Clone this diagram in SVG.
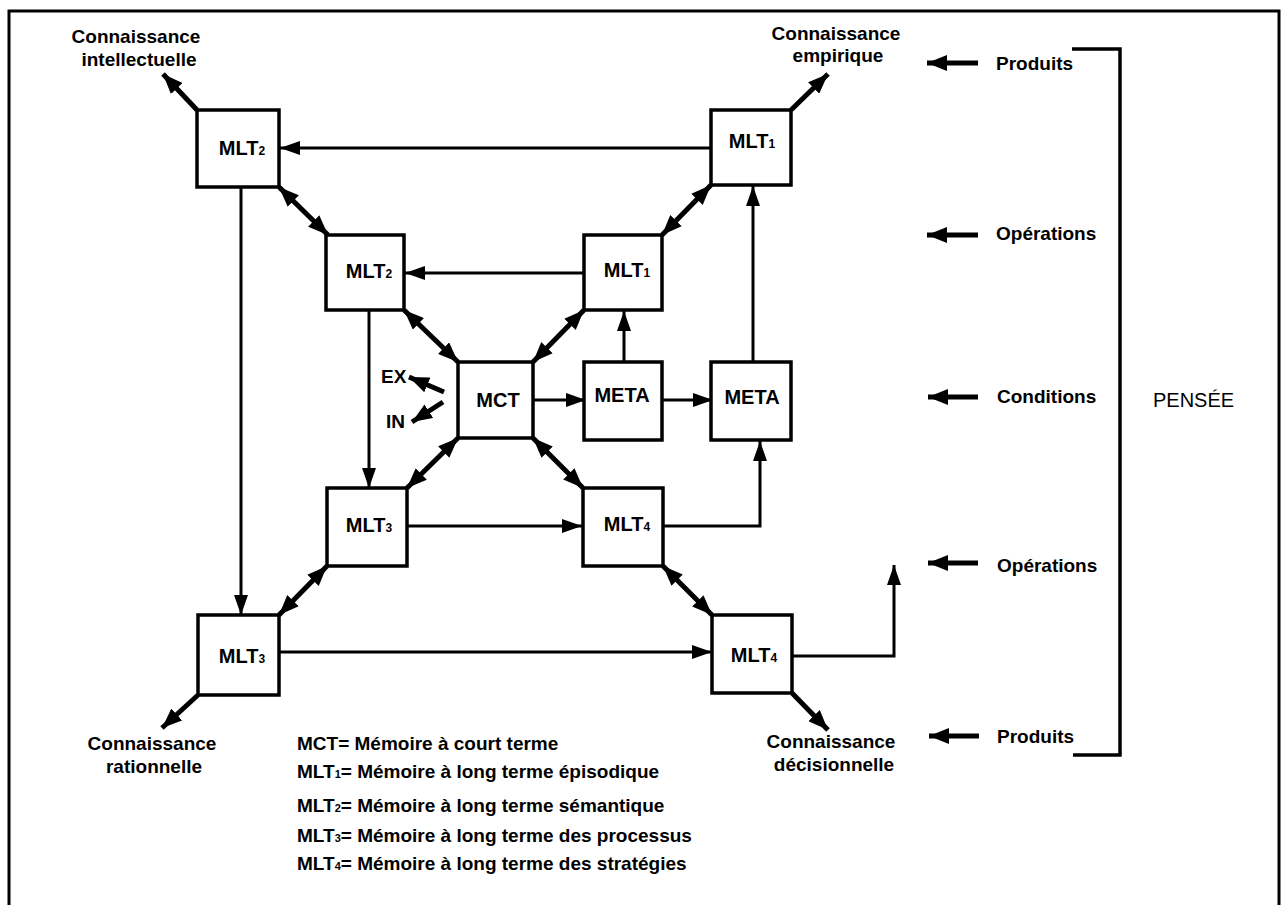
<svg xmlns="http://www.w3.org/2000/svg" width="1285" height="905" viewBox="0 0 1285 905">
<style>
  .box{fill:#fff;stroke:#000;stroke-width:3.5}
  .t{font-family:"Liberation Sans",Arial,sans-serif;font-weight:bold;font-size:19px;fill:#000}
  .lbl{text-anchor:middle}
  .bx{font-size:20px}
  .sub{font-size:11px}
  .bx .sub{font-size:12px}
  .ln{fill:none;stroke:#000;stroke-width:3}
  .thk{fill:none;stroke:#000;stroke-width:5}
  .reg{font-weight:normal}
</style>
<defs>
  <marker id="ah" markerUnits="userSpaceOnUse" markerWidth="20" markerHeight="14" refX="20" refY="7" orient="auto">
    <path d="M0,0 L20,7 L0,14 z" fill="#000"/>
  </marker>
  <marker id="dh" markerUnits="userSpaceOnUse" markerWidth="20" markerHeight="16" refX="20" refY="8" orient="auto-start-reverse">
    <path d="M0,0 L20,8 L0,16 z" fill="#000"/>
  </marker>
</defs>

<rect x="9" y="11" width="1270" height="910" fill="none" stroke="#000" stroke-width="3"/>

<g id="connectors">
  <!-- horizontal flows -->
  <line class="ln" x1="711" y1="148" x2="280" y2="148" marker-end="url(#ah)"/>
  <line class="ln" x1="584" y1="273" x2="405" y2="273" marker-end="url(#ah)"/>
  <line class="ln" x1="407" y1="526" x2="582" y2="526" marker-end="url(#ah)"/>
  <line class="ln" x1="279" y1="652" x2="712" y2="652" marker-end="url(#ah)"/>
  <line class="ln" x1="533" y1="400" x2="586" y2="400" marker-end="url(#ah)"/>
  <line class="ln" x1="662" y1="400" x2="713" y2="400" marker-end="url(#ah)"/>
  <!-- vertical flows -->
  <line class="ln" x1="241" y1="187" x2="241" y2="615" marker-end="url(#ah)"/>
  <line class="ln" x1="369" y1="310" x2="369" y2="488" marker-end="url(#ah)"/>
  <line class="ln" x1="624" y1="362" x2="624" y2="311" marker-end="url(#ah)"/>
  <line class="ln" x1="753" y1="362" x2="753" y2="186" marker-end="url(#ah)"/>
  <polyline class="ln" points="663,526 760,526 760,441" marker-end="url(#ah)"/>
  <polyline class="ln" points="792,656 894,656 894,565" marker-end="url(#ah)"/>
  <!-- double-headed diagonals -->
  <line class="thk" x1="279" y1="187" x2="328" y2="235" marker-start="url(#dh)" marker-end="url(#dh)"/>
  <line class="thk" x1="711" y1="185" x2="662" y2="235" marker-start="url(#dh)" marker-end="url(#dh)"/>
  <line class="thk" x1="404" y1="310" x2="458" y2="362" marker-start="url(#dh)" marker-end="url(#dh)"/>
  <line class="thk" x1="584" y1="310" x2="533" y2="362" marker-start="url(#dh)" marker-end="url(#dh)"/>
  <line class="thk" x1="458" y1="438" x2="407" y2="488" marker-start="url(#dh)" marker-end="url(#dh)"/>
  <line class="thk" x1="533" y1="438" x2="583" y2="488" marker-start="url(#dh)" marker-end="url(#dh)"/>
  <line class="thk" x1="327" y1="566" x2="279" y2="615" marker-start="url(#dh)" marker-end="url(#dh)"/>
  <line class="thk" x1="663" y1="566" x2="712" y2="615" marker-start="url(#dh)" marker-end="url(#dh)"/>
  <!-- outward knowledge arrows -->
  <line class="thk" x1="197" y1="110" x2="163" y2="74" marker-end="url(#dh)"/>
  <line class="thk" x1="791" y1="110" x2="828" y2="74" marker-end="url(#dh)"/>
  <line class="thk" x1="198" y1="695" x2="162" y2="728" marker-end="url(#dh)"/>
  <line class="thk" x1="792" y1="693" x2="828" y2="730" marker-end="url(#dh)"/>
  <!-- EX / IN -->
  <line class="thk" x1="444" y1="392" x2="409" y2="377" marker-end="url(#dh)"/>
  <line class="thk" x1="443" y1="402" x2="412" y2="422" marker-end="url(#dh)"/>
  <!-- right side level arrows -->
  <line class="thk" x1="978" y1="63" x2="927" y2="63" marker-end="url(#dh)"/>
  <line class="thk" x1="978" y1="235" x2="927" y2="235" marker-end="url(#dh)"/>
  <line class="thk" x1="978" y1="397" x2="928" y2="397" marker-end="url(#dh)"/>
  <line class="thk" x1="978" y1="563" x2="928" y2="563" marker-end="url(#dh)"/>
  <line class="thk" x1="979" y1="736" x2="929" y2="736" marker-end="url(#dh)"/>
  <!-- bracket -->
  <polyline fill="none" stroke="#000" stroke-width="3.5" points="1072,49 1120,49 1120,755 1073,755"/>
</g>

<g id="mlt2-outer"><rect class="box" x="197" y="110" width="82" height="77"/><text class="t bx lbl" x="242" y="155">MLT<tspan class="sub">2</tspan></text></g>
<g id="mlt1-outer"><rect class="box" x="711" y="110" width="80" height="75"/><text class="t bx lbl" x="752" y="148">MLT<tspan class="sub">1</tspan></text></g>
<g id="mlt2-inner"><rect class="box" x="326" y="235" width="78" height="75"/><text class="t bx lbl" x="369" y="278">MLT<tspan class="sub">2</tspan></text></g>
<g id="mlt1-inner"><rect class="box" x="584" y="235" width="78" height="75"/><text class="t bx lbl" x="627" y="277">MLT<tspan class="sub">1</tspan></text></g>
<g id="mct"><rect class="box" x="458" y="362" width="75" height="76"/><text class="t bx lbl" x="498" y="407">MCT</text></g>
<g id="meta1"><rect class="box" x="584" y="362" width="78" height="78"/><text class="t bx lbl" x="622" y="402">META</text></g>
<g id="meta2"><rect class="box" x="711" y="362" width="80" height="78"/><text class="t bx lbl" x="752" y="404">META</text></g>
<g id="mlt3-inner"><rect class="box" x="327" y="488" width="80" height="78"/><text class="t bx lbl" x="369" y="532">MLT<tspan class="sub">3</tspan></text></g>
<g id="mlt4-inner"><rect class="box" x="583" y="488" width="80" height="78"/><text class="t bx lbl" x="627" y="531">MLT<tspan class="sub">4</tspan></text></g>
<g id="mlt3-outer"><rect class="box" x="198" y="615" width="81" height="80"/><text class="t bx lbl" x="242" y="663">MLT<tspan class="sub">3</tspan></text></g>
<g id="mlt4-outer"><rect class="box" x="712" y="615" width="80" height="78"/><text class="t bx lbl" x="754" y="662">MLT<tspan class="sub">4</tspan></text></g>

<g id="labels">
  <text class="t lbl" x="136" y="43">Connaissance</text>
  <text class="t lbl" x="139" y="66">intellectuelle</text>
  <text class="t lbl" x="836" y="40">Connaissance</text>
  <text class="t lbl" x="838" y="62">empirique</text>
  <text class="t lbl" x="152" y="750">Connaissance</text>
  <text class="t lbl" x="154" y="773">rationnelle</text>
  <text class="t lbl" x="831" y="748">Connaissance</text>
  <text class="t lbl" x="834" y="771">décisionnelle</text>
  <text class="t" x="381" y="383">EX</text>
  <text class="t" x="386" y="428">IN</text>
  <text class="t" x="996" y="70">Produits</text>
  <text class="t" x="996" y="240">Opérations</text>
  <text class="t" x="997" y="403">Conditions</text>
  <text class="t" x="997" y="572">Opérations</text>
  <text class="t" x="997" y="743">Produits</text>
  <text class="t reg" x="1153" y="407" style="font-size:20px">PENSÉE</text>
</g>

<g id="legend">
  <text class="t" x="297" y="750">MCT= Mémoire à court terme</text>
  <text class="t" x="297" y="778">MLT<tspan class="sub">1</tspan>= Mémoire à long terme épisodique</text>
  <text class="t" x="297" y="812">MLT<tspan class="sub">2</tspan>= Mémoire à long terme sémantique</text>
  <text class="t" x="297" y="842">MLT<tspan class="sub">3</tspan>= Mémoire à long terme des processus</text>
  <text class="t" x="297" y="870">MLT<tspan class="sub">4</tspan>= Mémoire à long terme des stratégies</text>
</g>
</svg>
